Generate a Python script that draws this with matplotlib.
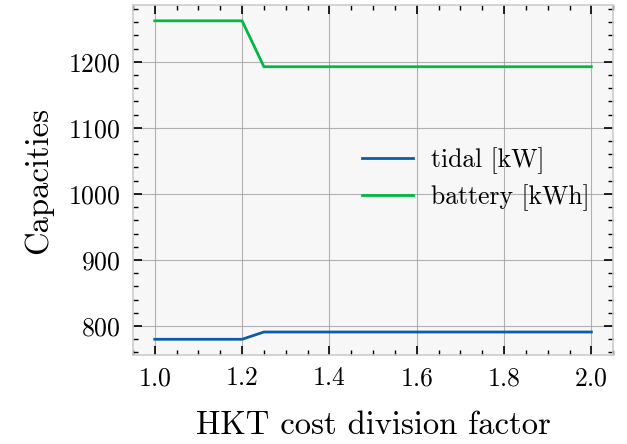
import numpy as np
import matplotlib
matplotlib.use("Agg")
import matplotlib.pyplot as plt
from matplotlib.ticker import MultipleLocator

factor = [1.0, 1.05, 1.1, 1.15, 1.2, 1.25, 1.3, 1.35, 1.4, 1.45, 1.5, 1.55, 1.6,
          1.65, 1.7, 1.75, 1.8, 1.85, 1.9, 1.95, 2.0]
tidal = [780, 780, 780, 780, 780] + [791] * 16
battery = [1262, 1262, 1262, 1262, 1262] + [1192.5] * 16

plt.rcParams['font.family'] = 'serif'
plt.rcParams['font.serif'] = ['cmr10']
plt.rcParams['mathtext.fontset'] = 'cm'
plt.rcParams['axes.formatter.use_mathtext'] = True

fig = plt.figure(figsize=(6.27, 4.44), dpi=100)
ax = fig.add_axes([0.212, 0.2, 0.766, 0.789])
ax.set_facecolor('#f7f7f7')

ax.plot(factor, tidal, color='#0C5DA5', lw=2, label='tidal [kW]')
ax.plot(factor, battery, color='#00B945', lw=2, label='battery [kWh]')

ax.xaxis.set_major_locator(MultipleLocator(0.2))
ax.xaxis.set_minor_locator(MultipleLocator(0.05))
ax.yaxis.set_major_locator(MultipleLocator(100))
ax.yaxis.set_minor_locator(MultipleLocator(20))
ax.tick_params(which='both', direction='in', top=True, right=True, labelsize=18.5)
ax.tick_params(axis='y', which='major', pad=9)
ax.tick_params(axis='x', which='major', pad=8)
ax.tick_params(which='major', length=6.5, width=1.2)
ax.tick_params(which='minor', length=3.5, width=1)
for s in ax.spines.values():
    s.set_color('#cccccc')
    s.set_linewidth(1.2)
ax.grid(True, which='major', color='#a0a0a0', lw=0.8, alpha=0.8)

ax.set_xlabel('HKT cost division factor', fontsize=23.5, labelpad=15)
ax.set_ylabel('Capacities', fontsize=23.5, labelpad=11)

ax.legend(loc='center left', bbox_to_anchor=(0.477, 0.504), frameon=False,
          fontsize=18.5, handlelength=2.0, handletextpad=0.7, labelspacing=0.4,
          borderpad=0, borderaxespad=0)

fig.savefig('out.png', dpi=100)
